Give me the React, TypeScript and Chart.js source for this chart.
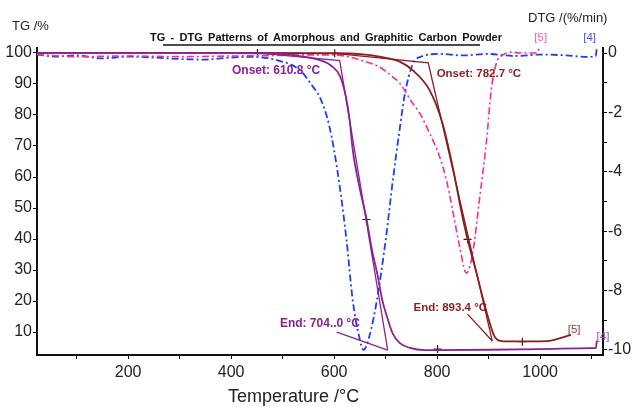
import { useEffect, useRef } from 'react';
import { Chart, registerables } from 'chart.js';

Chart.register(...registerables);

const FONT = '"Liberation Sans", Arial, Helvetica, sans-serif';

// ---- TG curves (left axis, %) ----
const tgAmorphT = [23, 100, 200, 300, 400, 450, 500, 533, 572, 595, 611, 622, 630, 636, 648, 663, 673, 684, 693, 704, 714, 727, 747, 776, 800, 900, 1000, 1100, 1108, 1110];
const tgAmorphV = [100, 100, 100, 100, 100, 99.9, 99.6, 99.0, 97.7, 95.8, 92.6, 86.5, 78.5, 68.8, 57.6, 46.3, 36.7, 28.6, 20.6, 14.2, 9.4, 6.5, 4.9, 4.2, 4.2, 4.3, 4.5, 4.8, 4.8, 7.2];

const tgGraphT = [23, 200, 400, 600, 650, 688, 727, 752, 785, 810, 830, 849, 859, 876, 896, 911, 925, 950, 1012, 1060];
const tgGraphV = [100, 100, 100, 99.9, 99.6, 98.8, 97.2, 94.5, 88.1, 77.5, 63.4, 47.3, 39.9, 29.3, 16.4, 8.7, 7.1, 7.0, 7.1, 9.1];

// ---- DTG curves (right axis, %/min) ----
const dtgAmorphT = [23, 60, 100, 150, 200, 250, 300, 350, 400, 442, 489, 533, 559, 572, 591, 607, 624, 636, 650, 657, 669, 683, 700, 714, 727, 737, 752, 772, 805, 850, 900, 950, 1000, 1050, 1089, 1108, 1110];
const dtgAmorphV = [-0.05, -0.12, -0.08, -0.18, -0.12, -0.15, -0.2, -0.22, -0.15, -0.13, -0.24, -0.57, -1.14, -1.48, -2.49, -4.04, -6.3, -8.32, -9.66, -10.0, -9.5, -8.32, -6.3, -4.28, -2.59, -1.41, -0.4, -0.1, -0.03, -0.08, -0.03, -0.1, -0.05, -0.08, -0.13, -0.1, 0.22];

const dtgGraphT = [23, 100, 200, 300, 400, 500, 550, 605, 663, 688, 714, 727, 752, 766, 785, 805, 818, 830, 843, 857, 869, 882, 896, 905, 915, 927, 946, 960, 985, 995, 998];
const dtgGraphV = [-0.05, -0.12, -0.1, -0.12, -0.1, -0.08, -0.06, -0.07, -0.3, -0.47, -0.81, -1.01, -1.68, -2.02, -2.69, -3.5, -4.28, -5.29, -6.46, -7.41, -6.73, -4.95, -2.93, -1.25, -0.34, -0.07, 0.03, 0.0, 0.0, 0.02, 0.15];

// ---- Onset / end construction lines (left axis) ----
const amorphOnsetLineT = [450, 610.8, 704];
const amorphOnsetLineV = [100, 97.5, 4.2];
const amorphEndLeaderT = [605, 704];
const amorphEndLeaderV = [10.0, 4.2];
const graphOnsetLineT = [601, 782.7, 907];
const graphOnsetLineV = [99.9, 96.8, 7.1];
const graphEndLeaderT = [859, 907];
const graphEndLeaderV = [15.8, 7.1];

// ---- step markers (+) on TG curves ----
const markerT = [451, 601, 662.6, 859, 800.8, 965.5];
const markerV = [100, 99.9, 46.3, 39.9, 4.5, 6.9];

// ---- axis ticks ----
const xTickValues = [100, 200, 300, 400, 500, 600, 700, 800, 900, 1000, 1100];
const xTickLabels = [200, 400, 600, 800, 1000];
const yLeftTickLabels = [10, 20, 30, 40, 50, 60, 70, 80, 90, 100];
const yRightTickLabels = [0, -2, -4, -6, -8, -10];

const PURPLE = '#8a2196';
const MAROON = '#8b1c1f';
const BLUE = '#1f3df5';
const PINK = '#ff2a8c';

// annotation labels, positioned in data coordinates
const annotations = [
  { text: 'Onset: 610.8 °C', x: 401.6, y: 94.2, axis: 'y', color: PURPLE, size: 12, bold: true, align: 'left' },
  { text: 'Onset: 782.7 °C', x: 799, y: 93.2, axis: 'y', color: MAROON, size: 11.5, bold: true, align: 'left' },
  { text: 'End: 704..0 °C', x: 494.6, y: 12.6, axis: 'y', color: PURPLE, size: 12, bold: true, align: 'left' },
  { text: 'End: 893.4 °C', x: 754, y: 17.7, axis: 'y', color: MAROON, size: 11.5, bold: true, align: 'left' },
  { text: '[5]', x: 1001, y: 0.5, axis: 'y2', color: '#ff5aa8', size: 11.5, bold: false, align: 'center' },
  { text: '[4]', x: 1096, y: 0.5, axis: 'y2', color: '#4a58ea', size: 11.5, bold: false, align: 'center' },
  { text: '[5]', x: 1066, y: 10.6, axis: 'y', color: '#9a3a3a', size: 11.5, bold: false, align: 'center' },
  { text: '[4]', x: 1122, y: 8.4, axis: 'y', color: '#a848b8', size: 11.5, bold: false, align: 'center' },
];

const pts = (xs: number[], ys: number[]) => xs.map((x, i) => ({ x, y: ys[i] }));

export default function App() {
  const ref = useRef<HTMLCanvasElement>(null);

  useEffect(() => {
    const canvas = ref.current;
    if (!canvas) return;

    const textPlugin = {
      id: 'textPlugin',
      afterDatasetsDraw(chart: any) {
        const { ctx, scales } = chart;
        ctx.save();
        ctx.textBaseline = 'middle';
        // axis titles
        ctx.fillStyle = '#222';
        ctx.textAlign = 'left';
        ctx.font = `13px ${FONT}`;
        ctx.fillText('TG /%', 12, 26);
        ctx.fillText('DTG /(%/min)', 528, 18);
        ctx.font = `18px ${FONT}`;
        ctx.fillText('Temperature /°C', 228, 397);
        // chart title
        ctx.font = `bold 11px ${FONT}`;
        const title = 'TG - DTG Patterns of Amorphous and Graphitic Carbon Powder';
        const natural = ctx.measureText(title).width;
        const gaps = title.split(' ').length - 1;
        const extra = Math.max(0, (352 - natural) / gaps);
        (ctx as any).wordSpacing = `${extra.toFixed(2)}px`;
        ctx.fillStyle = '#111';
        ctx.fillText(title, 150, 38);
        (ctx as any).wordSpacing = '0px';
        ctx.strokeStyle = '#111';
        ctx.lineWidth = 1.5;
        ctx.beginPath();
        ctx.moveTo(163, 45);
        ctx.lineTo(480, 45);
        ctx.stroke();
        // annotations
        for (const a of annotations) {
          const px = scales.x.getPixelForValue(a.x);
          const py = scales[a.axis].getPixelForValue(a.y);
          ctx.font = `${a.bold ? 'bold ' : ''}${a.size}px ${FONT}`;
          ctx.fillStyle = a.color;
          ctx.textAlign = a.align;
          ctx.fillText(a.text, px, py);
        }
        ctx.restore();
      },
    };

    const line = (data: any[], color: string, width: number, axis: string, extra: any = {}) => ({
      data,
      borderColor: color,
      backgroundColor: color,
      borderWidth: width,
      pointRadius: 0,
      fill: false,
      yAxisID: axis,
      ...extra,
    });

    const axisCommon = {
      border: { display: true, color: '#111', width: 2 },
      grid: { display: true, drawOnChartArea: false, drawTicks: true, tickLength: 4, color: '#111', lineWidth: 1 },
    };

    const chart = new Chart(canvas, {
      type: 'line',
      data: {
        datasets: [
          line(pts(tgAmorphT, tgAmorphV), PURPLE, 1.8, 'y', { cubicInterpolationMode: 'monotone' }),
          line(pts(tgGraphT, tgGraphV), MAROON, 1.8, 'y', { cubicInterpolationMode: 'monotone' }),
          line(pts(amorphOnsetLineT, amorphOnsetLineV), PURPLE, 1.3, 'y'),
          line(pts(amorphEndLeaderT, amorphEndLeaderV), PURPLE, 1.3, 'y'),
          line(pts(graphOnsetLineT, graphOnsetLineV), MAROON, 1.3, 'y'),
          line(pts(graphEndLeaderT, graphEndLeaderV), MAROON, 1.3, 'y'),
          line(pts(dtgGraphT, dtgGraphV), PINK, 1.6, 'y2', { cubicInterpolationMode: 'monotone', borderDash: [7, 3, 2, 3], clip: false }),
          line(pts(dtgAmorphT, dtgAmorphV), BLUE, 1.8, 'y2', { cubicInterpolationMode: 'monotone', borderDash: [7, 3, 2, 3], clip: false }),
          {
            data: pts(markerT, markerV),
            yAxisID: 'y',
            showLine: false,
            pointStyle: 'cross',
            pointRadius: 4,
            pointBorderColor: '#222',
            pointBorderWidth: 1.2,
            borderColor: '#222',
          },
        ],
      },
      options: {
        animation: false,
        responsive: false,
        events: [],
        layout: { padding: { top: 48, left: 0, right: 0, bottom: 0 } },
        plugins: { legend: { display: false }, tooltip: { enabled: false }, title: { display: false } },
        scales: {
          x: {
            type: 'linear',
            min: 23,
            max: 1122,
            afterFit: (s: any) => { s.height = 52; },
            afterBuildTicks: (s: any) => { s.ticks = xTickValues.map((value) => ({ value })); },
            ...axisCommon,
            ticks: {
              autoSkip: false,
              maxRotation: 0,
              padding: 4,
              color: '#222',
              font: { family: FONT, size: 16 },
              callback: (v: any) => (xTickLabels.includes(Number(v)) ? String(v) : ''),
            },
          },
          y: {
            position: 'left',
            min: 2.6,
            max: 101.6,
            afterFit: (s: any) => { s.width = 37; },
            ...axisCommon,
            ticks: {
              stepSize: 10,
              includeBounds: false,
              padding: 1,
              color: '#222',
              font: { family: FONT, size: 16 },
              callback: (v: any) => (yLeftTickLabels.includes(v) ? String(v) : ''),
            },
          },
          y2: {
            position: 'right',
            min: -10.17,
            max: 0.17,
            afterFit: (s: any) => { s.width = 30; },
            ...axisCommon,
            ticks: {
              stepSize: 1,
              includeBounds: false,
              padding: 1,
              color: '#222',
              font: { family: FONT, size: 16 },
              callback: (v: any) => (yRightTickLabels.includes(v) ? String(v) : ''),
            },
          },
        },
      } as any,
      plugins: [textPlugin],
    });

    return () => chart.destroy();
  }, []);

  return (
    <div style={{ position: 'absolute', left: 0, top: 0, width: 633, height: 407, background: '#fff' }}>
      <canvas ref={ref} width={633} height={407} />
    </div>
  );
}
